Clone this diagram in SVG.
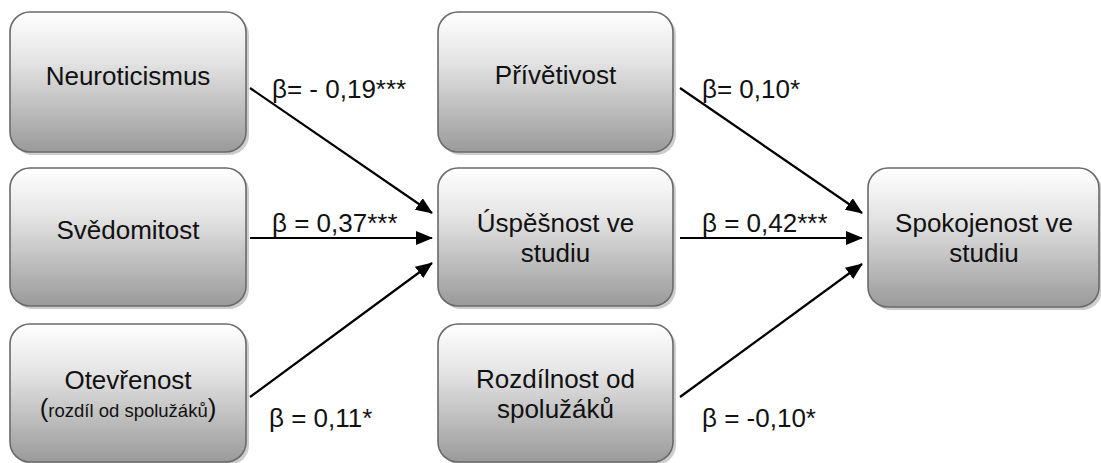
<svg xmlns="http://www.w3.org/2000/svg" width="1101" height="463" viewBox="0 0 1101 463">
<defs>
<linearGradient id="g" x1="0" y1="0" x2="0" y2="1">
<stop offset="0" stop-color="#ffffff"/>
<stop offset="0.35" stop-color="#e4e4e4"/>
<stop offset="1" stop-color="#9a9a9a"/>
</linearGradient>
<marker id="ah" markerWidth="17" markerHeight="14" refX="16" refY="7" orient="auto" markerUnits="userSpaceOnUse" viewBox="0 0 17 14">
<path d="M0,0 L17,7 L0,14 z" fill="#000"/>
</marker>
</defs>
<style>
.sh{fill:#cdcdcd;}
.bx{fill:url(#g);stroke:#6a6a6a;stroke-width:1.6;}
.t{font-family:"Liberation Sans",Arial,sans-serif;font-size:26px;fill:#111;text-anchor:middle;}
.s{font-family:"Liberation Sans",Arial,sans-serif;font-size:18.5px;}
.lb{font-family:"Liberation Sans",Arial,sans-serif;font-size:26px;fill:#111;}
.c{stroke:#000;stroke-width:2.2;fill:none;}
</style>
<rect width="1101" height="463" fill="#fff"/>
<g id="n1">
<rect class="sh" x="13" y="15" width="236" height="140" rx="20"/>
<rect class="bx" x="10" y="12" width="236" height="140" rx="20"/>
<text class="t" x="128" y="85">Neuroticismus</text>
</g>
<g id="n2">
<rect class="sh" x="13" y="171" width="236" height="138" rx="20"/>
<rect class="bx" x="10" y="168" width="236" height="138" rx="20"/>
<text class="t" x="128" y="239">Svědomitost</text>
</g>
<g id="n3">
<rect class="sh" x="13" y="327" width="236" height="138" rx="20"/>
<rect class="bx" x="10" y="324" width="236" height="138" rx="20"/>
<text class="t" x="128" y="389">Otevřenost</text>
<text class="t" x="128" y="417">(<tspan class="s">rozdíl od spolužáků</tspan>)</text>
</g>
<g id="n4">
<rect class="sh" x="441" y="15" width="235" height="140" rx="20"/>
<rect class="bx" x="438" y="12" width="235" height="140" rx="20"/>
<text class="t" x="555.5" y="84">Přívětivost</text>
</g>
<g id="n5">
<rect class="sh" x="441" y="171" width="235" height="138" rx="20"/>
<rect class="bx" x="438" y="168" width="235" height="138" rx="20"/>
<text class="t" x="555.5" y="232">Úspěšnost ve</text>
<text class="t" x="555.5" y="262">studiu</text>
</g>
<g id="n6">
<rect class="sh" x="441" y="327" width="235" height="138" rx="20"/>
<rect class="bx" x="438" y="324" width="235" height="138" rx="20"/>
<text class="t" x="555.5" y="388">Rozdílnost od</text>
<text class="t" x="555.5" y="418">spolužáků</text>
</g>
<g id="n7">
<rect class="sh" x="871" y="171" width="231" height="139" rx="20"/>
<rect class="bx" x="868" y="168" width="231" height="139" rx="20"/>
<text class="t" x="984" y="232">Spokojenost ve</text>
<text class="t" x="984" y="262">studiu</text>
</g>
<g id="connectors">
<line class="c" x1="250" y1="88" x2="432" y2="213" marker-end="url(#ah)"/>
<line class="c" x1="250" y1="238" x2="432" y2="238" marker-end="url(#ah)"/>
<line class="c" x1="250" y1="397" x2="432" y2="263" marker-end="url(#ah)"/>
<line class="c" x1="680" y1="88" x2="862" y2="213" marker-end="url(#ah)"/>
<line class="c" x1="680" y1="238" x2="862" y2="238" marker-end="url(#ah)"/>
<line class="c" x1="680" y1="397" x2="862" y2="264" marker-end="url(#ah)"/>
</g>
<g id="labels">
<text class="lb" x="272" y="98">β= - 0,19***</text>
<text class="lb" x="272" y="232">β = 0,37***</text>
<text class="lb" x="269" y="427">β = 0,11*</text>
<text class="lb" x="702" y="98">β= 0,10*</text>
<text class="lb" x="702" y="232">β = 0,42***</text>
<text class="lb" x="702" y="427">β = -0,10*</text>
</g>
</svg>
